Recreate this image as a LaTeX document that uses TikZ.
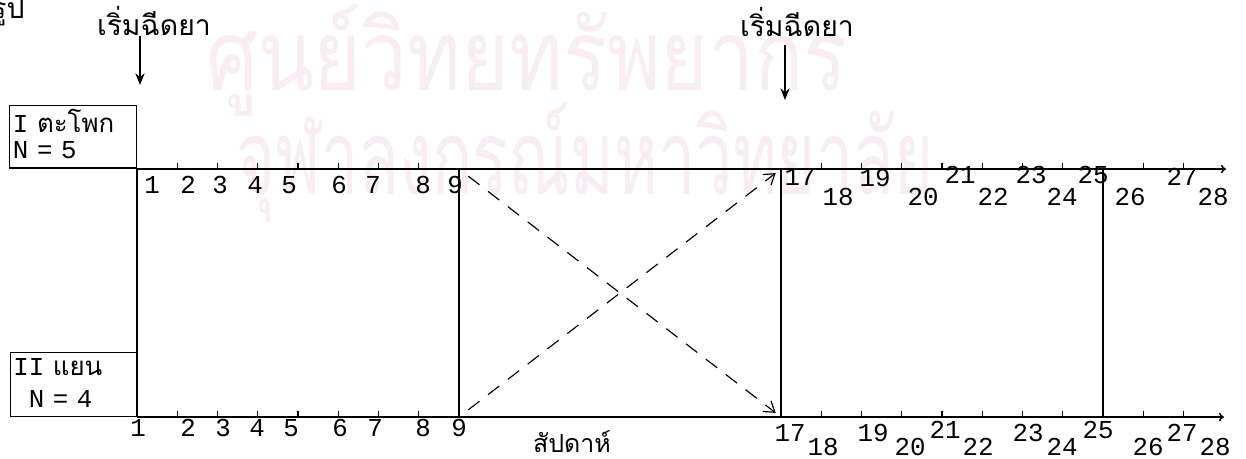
\documentclass[tikz,border=0pt]{standalone}
\usepackage{graphicx}
\usepackage{fontspec}
\setmainfont{Liberation Mono}
\newfontfamily\thaifont[Script=Thai]{Loma}
\usetikzlibrary{arrows.meta}
\definecolor{stamp}{RGB}{249,237,243}
\tikzset{
  axis/.style={line width=0.9pt},
  weektick/.style={line width=0.8pt},
  groupbox/.style={draw,line width=0.9pt,align=left,inner xsep=1.8pt,inner ysep=2pt,anchor=south east},
  thai/.style={font=\fontsize{17}{19}\thaifont},
  crossarrow/.style={line width=0.7pt,dash pattern=on 8.5pt off 6.5pt,-{Straight Barb[length=6pt,width=8pt]}},
  startarrow/.style={line width=1pt,-{Stealth[length=7pt,width=5.5pt]}},
}
\begin{document}
\begin{tikzpicture}[x=0.6pt,y=-0.6pt,font=\fontsize{15.5}{15.6}\selectfont]
  \useasboundingbox (0,0) rectangle (1246,459);

  % Watermark
  \node[stamp,inner sep=0pt] (stamp1) at (527,60)
    {\scalebox{1}[1.2]{\fontsize{49}{50}\thaifont ศูนย์วิทยทรัพยากร}};
  \node[stamp,inner sep=0pt] (stamp2) at (585,162)
    {\scalebox{0.8}[1.25]{\fontsize{50}{50}\thaifont จุฬาลงกรณ์มหาวิทยาลัย}};

  % Cropped caption
  \node[thai,anchor=east,inner sep=0pt] (fig) at (25,12) {รูป};

  % Week positions
  \foreach \w in {1,...,27} {
    \coordinate (t\w) at ({137+(\w-1)*40.25},169);
    \coordinate (b\w) at ({137+(\w-1)*40.25},417);
  }
  \coordinate (tend) at (1226,169);
  \coordinate (bend) at (1224,417);

  % Groups
  \node[groupbox,minimum width=76pt,minimum height=36.6pt,text width=72pt] (hip) at (t1)
    {I {\thaifont ตะโพก}\\N = 5\rule[-4pt]{0pt}{0pt}};
  \node[groupbox,minimum width=75.6pt,minimum height=38.4pt,text width=72pt] (arm) at (b1)
    {II {\thaifont แยน}\\[3.6pt]\hspace*{9.3pt}N = 4\rule[-2pt]{0pt}{0pt}};

  % Axes
  \draw[axis,-{To[length=3pt,width=5pt]}] (t1) -- (tend);
  \draw[axis,-{To[length=3pt,width=5pt]}] (b1) -- (bend);

  % Ticks
  \foreach \w in {2,...,8,18,19,...,24,26,27} {
    \draw[weektick] (t\w) -- ++(0,-6);
    \draw[weektick] (b\w) -- ++(0,-6);
  }

  % Injection weeks
  \foreach \w in {1,9,17,25}
    \draw[axis] (t\w) -- (b\w);

  % Week labels, upper line
  \foreach \w/\x/\y in {1/152/185,2/188/185,3/220/185,4/255/185,5/289/185,6/339/185,
      7/373/185,8/423/185,9/455/185,17/800/177,18/838/197,19/875/178,20/923/197,
      21/960/175,22/993/197,23/1031/175,24/1062/197,25/1093/175,26/1130/197,
      27/1182/177,28/1213/197}
    \node[inner sep=0pt] (tl\w) at (\x,\y) {\w};

  % Week labels, lower line
  \foreach \w/\x/\y in {1/138/428,2/188/428,3/223/428,4/257/428,5/291/428,6/340/428,
      7/375/428,8/423/428,9/459/428,17/790/433,18/823/447,19/873/433,20/910/447,
      21/945/430,22/978/447,23/1028/433,24/1062/447,25/1098/430,26/1148/447,
      27/1182/433,28/1215/447}
    \node[inner sep=0pt] (bl\w) at (\x,\y) {\w};

  \node[thai,font=\fontsize{15}{17}\thaifont,inner sep=0pt,text depth=0pt,anchor=base]
    (weeks) at (572,452) {สัปดาห์};

  % Start of injections
  \node[thai,inner sep=0pt] (start1) at (154,21) {เริ่มฉีดยา};
  \coordinate (hit1) at (140,85);
  \draw[startarrow,shorten <=0pt] (start1.south -| hit1) -- (hit1);
  \node[thai,inner sep=0pt] (start2) at (797,22) {เริ่มฉีดยา};
  \coordinate (hit2) at (785,100);
  \draw[startarrow,shorten <=5pt] (start2.south -| hit2) -- (hit2);

  % Crossover
  \draw[crossarrow,shorten <=7pt,shorten >=4pt] (t9) -- (b17);
  \draw[crossarrow,shorten <=7pt,shorten >=4pt] (b9) -- (t17);
\end{tikzpicture}
\end{document}
